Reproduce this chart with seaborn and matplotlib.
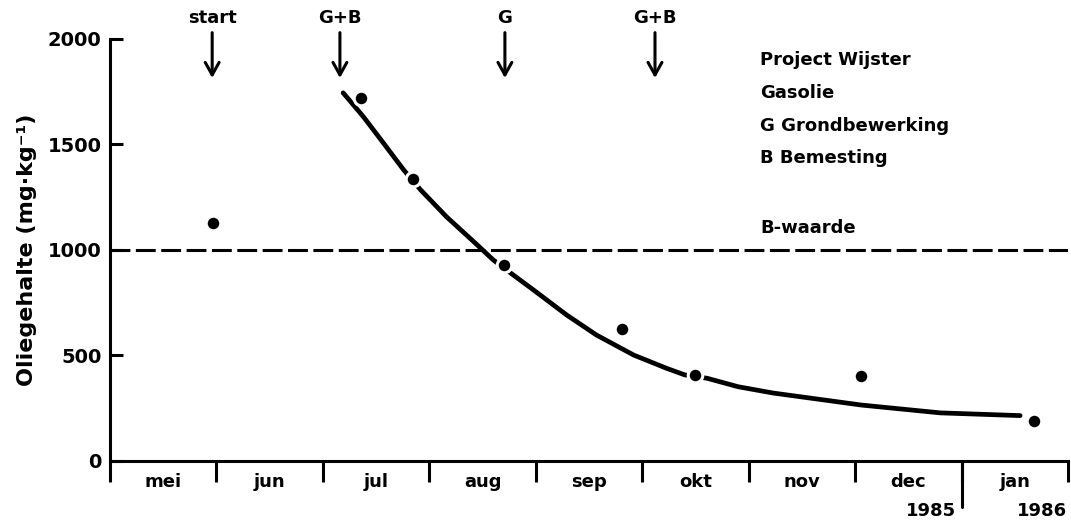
import numpy as np
import pandas as pd
import seaborn as sns
import matplotlib.pyplot as plt

# x-as: maanden vanaf 1 mei 1985 (0 = begin mei, 9 = eind januari)
months = ["mei", "jun", "jul", "aug", "sep", "okt", "nov", "dec", "jan"]
years = ["1985", "1986"]
y_ticks = [0, 500, 1000, 1500, 2000]

# gemeten oliegehalte (mg/kg)
meet_x = [0.97, 2.36, 2.85, 3.70, 4.81, 5.50, 7.06, 8.68]
meet_y = [1130, 1720, 1336, 929, 624, 408, 405, 190]

# afbraakcurve
curve_x = [2.19, 2.38, 2.57, 2.76, 2.92, 3.16, 3.45, 3.60, 3.79, 3.98,
           4.29, 4.57, 4.92, 5.23, 5.40, 5.61, 5.90, 6.23, 7.06, 7.80, 8.55]
curve_y = [1745, 1632, 1506, 1379, 1284, 1158, 1024, 953, 881, 810,
           692, 597, 502, 439, 408, 392, 352, 322, 265, 228, 215]

# behandelingen
event_x = [0.96, 2.16, 3.71, 5.12]
event_labels = ["start", "G+B", "G", "G+B"]

b_waarde = 1000
info_lines = ["Project Wijster", "Gasolie", "G Grondbewerking", "B Bemesting"]

sns.set_theme(style="white")
plt.rcParams['font.family'] = ['DejaVu Sans']
plt.rcParams['font.weight'] = 'bold'
plt.rcParams['axes.labelweight'] = 'bold'
plt.rcParams['text.color'] = 'black'
plt.rcParams['axes.labelcolor'] = 'black'
plt.rcParams['xtick.color'] = 'black'
plt.rcParams['ytick.color'] = 'black'

meet = pd.DataFrame({"maand": meet_x, "olie": meet_y})
curve = pd.DataFrame({"maand": curve_x, "olie": curve_y})

fig = plt.figure(figsize=(10.71, 5.22), dpi=100)
ax = fig.add_axes([0.1027, 0.1169, 0.8945, 0.8084])

ax.axhline(b_waarde, color="black", lw=2.2, ls=(0, (6.5, 1.8)), zorder=1)
sns.lineplot(data=curve, x="maand", y="olie", color="black", lw=3.4,
             sort=False, ax=ax, zorder=2,
             solid_joinstyle="round", solid_capstyle="round")
sns.scatterplot(data=meet, x="maand", y="olie", color="black", s=110,
                edgecolor="white", linewidth=2.2, zorder=5, ax=ax)

ax.set_xlim(0, 9)
ax.set_ylim(0, 2000)

# spines
for side in ["top", "right"]:
    ax.spines[side].set_visible(False)
for side in ["left", "bottom"]:
    ax.spines[side].set_color("black")
    ax.spines[side].set_linewidth(2.2)

# maandgrenzen als ticks, namen ertussen
ax.set_xticks(range(10))
ax.set_xticklabels([])
ax.set_xticks(np.arange(9) + 0.5, minor=True)
ax.set_xticklabels(months, minor=True)
ax.tick_params(axis="x", which="major", direction="out", length=15,
               width=2.2, bottom=True)
ax.tick_params(axis="x", which="minor", length=0, pad=9, labelsize=13,
               bottom=True)

ax.set_yticks(y_ticks)
ax.tick_params(axis="y", direction="in", length=9, width=2.2, pad=6,
               labelsize=14, left=True)

# jaargrens
ax.plot([8, 8], [0, -220], color="black", lw=2.2, clip_on=False)
ax.text(7.95, -238, years[0], ha="right", va="center", fontsize=13)
ax.text(8.99, -238, years[1], ha="right", va="center", fontsize=13)

ax.set_xlabel("")
ax.set_ylabel("Oliegehalte (mg·kg⁻¹)", fontsize=16, labelpad=8)

# pijlen voor de behandelingen
for x, lab in zip(event_x, event_labels):
    ax.annotate("", xy=(x, 1815), xytext=(x, 2030),
                arrowprops=dict(arrowstyle="->,head_length=0.45,head_width=0.25",
                                lw=2.2, color="black", mutation_scale=20,
                                shrinkA=0, shrinkB=0),
                annotation_clip=False)
    ax.text(x, 2100, lab, ha="center", va="center", fontsize=13)

for i, line in enumerate(info_lines):
    ax.text(6.11, 1900 - i * 155, line, ha="left", va="center", fontsize=13)
ax.text(6.11, 1105, "B-waarde", ha="left", va="center", fontsize=13)

fig.savefig("out.png", dpi=100)
